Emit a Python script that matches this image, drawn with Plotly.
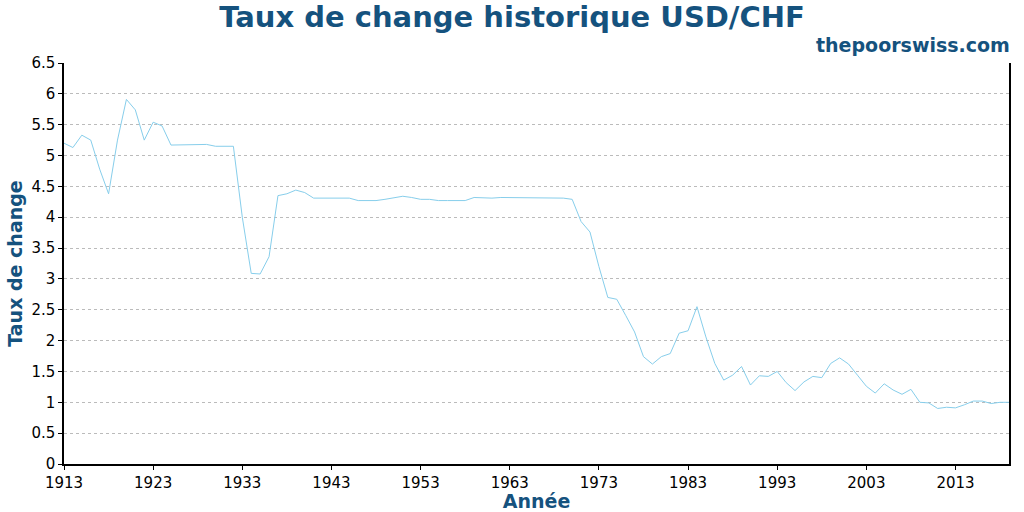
import plotly.graph_objects as go

years = list(range(1913, 2020))
rates = [
    5.20, 5.13, 5.33, 5.25, 4.78, 4.38, 5.25, 5.91, 5.74, 5.25,
    5.54, 5.48, 5.17, 5.17, 5.18, 5.18, 5.18, 5.15, 5.15, 5.15,
    4.00, 3.09, 3.08, 3.36, 4.35, 4.38, 4.44, 4.40, 4.31, 4.31,
    4.31, 4.31, 4.31, 4.27, 4.27, 4.27, 4.29, 4.32, 4.34, 4.32,
    4.29, 4.29, 4.27, 4.27, 4.27, 4.27, 4.32, 4.31, 4.31, 4.32,
    4.32, 4.31, 4.32, 4.32, 4.32, 4.31, 4.31, 4.29, 3.93, 3.76,
    3.20, 2.70, 2.67, 2.41, 2.14, 1.74, 1.62, 1.74, 1.79, 2.12,
    2.16, 2.55, 2.06, 1.63, 1.36, 1.44, 1.58, 1.28, 1.43, 1.42,
    1.50, 1.32, 1.19, 1.33, 1.42, 1.40, 1.63, 1.72, 1.62, 1.44,
    1.26, 1.15, 1.30, 1.20, 1.13, 1.21, 1.00, 0.99, 0.90, 0.92,
    0.91, 0.96, 1.02, 1.02, 0.98, 1.00, 1.00,
]
x_ticks = list(range(1913, 2019, 10))
y_ticks = [i * 0.5 for i in range(14)]
y_labels = [("%g" % v) for v in y_ticks]

title_color = "#15527e"
font_family = "DejaVu Sans"

fig = go.Figure()
fig.add_trace(go.Scatter(
    x=years, y=rates, mode="lines",
    line=dict(color="#87CEEB", width=1),
    hoverinfo="x+y", showlegend=False,
))

fig.update_layout(
    width=1024, height=512,
    margin=dict(l=64, r=15, t=63, b=48),
    paper_bgcolor="white", plot_bgcolor="white",
    font=dict(family=font_family, size=15, color="black"),
    title=dict(
        text="<b>Taux de change historique USD/CHF</b>",
        font=dict(family=font_family, size=29, color=title_color),
        x=0.5, xanchor="center", y=0.967, yanchor="middle",
    ),
    annotations=[dict(
        text="<b>thepoorswiss.com</b>", xref="paper", yref="paper",
        x=1.0, y=1.0, xanchor="right", yanchor="bottom", yshift=5, xshift=3,
        showarrow=False, font=dict(family=font_family, size=19, color=title_color),
    )],
)
fig.update_xaxes(
    range=[1913, 2019], tickvals=x_ticks, ticktext=[str(v) for v in x_ticks],
    showgrid=False, zeroline=False, showline=True, linecolor="black", linewidth=1.5,
    ticks="outside", ticklen=4, tickcolor="black", automargin=False,
    tickfont=dict(size=15, color="black"),
    title=dict(text="<b>Année</b>", font=dict(size=19, color=title_color), standoff=2),
)
fig.update_yaxes(
    range=[0, 6.5], tickvals=y_ticks, ticktext=y_labels,
    showgrid=True, gridcolor="#bbbbbb", griddash="dot", gridwidth=1,
    zeroline=False, showline=True, linecolor="black", linewidth=1.5, mirror=True,
    ticks="outside", ticklen=4, tickcolor="black", automargin=False,
    tickfont=dict(size=15, color="black"),
    title=dict(text="<b>Taux de change</b>", font=dict(size=19, color=title_color), standoff=4),
)

fig.write_html("out.html")
